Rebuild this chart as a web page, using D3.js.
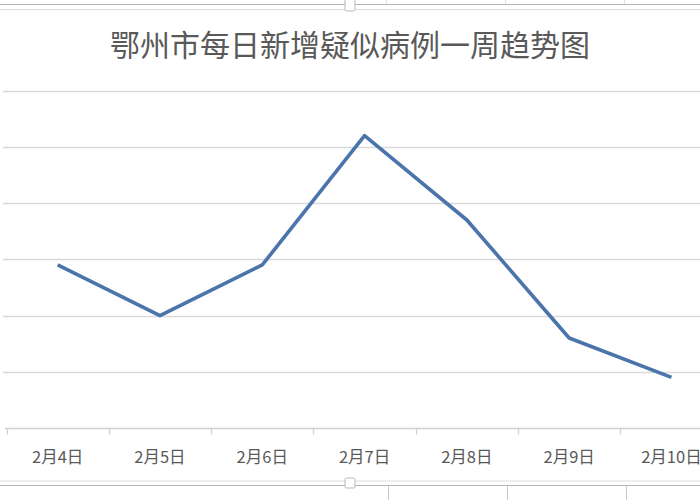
<!DOCTYPE html>
<html>
<head>
<meta charset="utf-8">
<script src="https://cdn.jsdelivr.net/npm/d3@7"></script>
<style>
  body { margin: 0; background: #fff; }
  svg { display: block; font-family: "Noto Sans CJK SC", "Noto Sans", sans-serif; }
</style>
</head>
<body>
<div id="chart"></div>
<script>
var title = "鄂州市每日新增疑似病例一周趋势图";
var days = ["2月4日", "2月5日", "2月6日", "2月7日", "2月8日", "2月9日", "2月10日"];
var cases = [29, 20, 29, 52, 37, 16, 9];
var y_ticks = [0, 10, 20, 30, 40, 50, 60];

var w = 700, h = 500;

var x_ax = d3.scaleBand()
  .domain(days)
  .range([6.5, 722.6]);
var y_ax = d3.scaleLinear()
  .domain([0, 60])
  .range([428, 90.7]);

var svg_obj = d3.select("#chart").append("svg")
  .attr("width", w)
  .attr("height", h);

// screenshot frame bits (top and bottom edges of the embedded chart)
var frame = svg_obj.append("g");
frame.append("line").attr("x1", 0).attr("x2", w).attr("y1", 4.5).attr("y2", 4.5)
  .attr("stroke", "#b4b4b4").attr("stroke-width", 1.2);
frame.append("line").attr("x1", 0).attr("x2", w).attr("y1", 9.5).attr("y2", 9.5)
  .attr("stroke", "#dcdcdc").attr("stroke-width", 1);
frame.append("line").attr("x1", 0).attr("x2", w).attr("y1", 481).attr("y2", 481)
  .attr("stroke", "#dcdcdc").attr("stroke-width", 1);
frame.append("line").attr("x1", 0).attr("x2", w).attr("y1", 485.5).attr("y2", 485.5)
  .attr("stroke", "#b4b4b4").attr("stroke-width", 1.2);
[388.5, 507.5, 626.5].forEach(function(xx) {
  frame.append("line").attr("x1", xx).attr("x2", xx).attr("y1", 486).attr("y2", h)
    .attr("stroke", "#c8c8c8").attr("stroke-width", 1);
  frame.append("line").attr("x1", xx - 2).attr("x2", xx - 2).attr("y1", 0).attr("y2", 4)
    .attr("stroke", "#e0e0e0").attr("stroke-width", 1);
});
frame.append("rect").attr("x", 345).attr("y", -1).attr("width", 10).attr("height", 12)
  .attr("fill", "#fff").attr("stroke", "#b8b8b8").attr("rx", 1.5);
frame.append("rect").attr("x", 345).attr("y", 478).attr("width", 10).attr("height", 10)
  .attr("fill", "#fff").attr("stroke", "#b8b8b8").attr("rx", 1.5);

// title
svg_obj.append("text")
  .attr("x", 350)
  .attr("y", 56)
  .attr("text-anchor", "middle")
  .attr("fill", "#595959")
  .attr("font-size", 30)
  .text(title);

// horizontal gridlines
svg_obj.append("g")
  .selectAll("line")
  .data(y_ticks.slice(1))
  .enter()
    .append("line")
    .attr("x1", 3)
    .attr("x2", w)
    .attr("y1", function(d) { return Math.round(y_ax(d)) + 0.5; })
    .attr("y2", function(d) { return Math.round(y_ax(d)) + 0.5; })
    .attr("stroke", "#d9d9d9")
    .attr("stroke-width", 1.3);

// category axis
var x_axis = svg_obj.append("g")
  .attr("transform", "translate(0," + (Math.round(y_ax(0)) + 0.5) + ")");
x_axis.append("line")
  .attr("x1", 5).attr("x2", w)
  .attr("stroke", "#d0d0d0").attr("stroke-width", 1.3);
x_axis.selectAll(".tick_mark")
  .data(days)
  .enter()
    .append("line")
    .attr("class", "tick_mark")
    .attr("x1", function(d) { return Math.round(x_ax(d)) + 0.5; })
    .attr("x2", function(d) { return Math.round(x_ax(d)) + 0.5; })
    .attr("y1", 0).attr("y2", 6)
    .attr("stroke", "#d0d0d0").attr("stroke-width", 1.3);
x_axis.selectAll(".tick_label")
  .data(days)
  .enter()
    .append("text")
    .attr("class", "tick_label")
    .attr("x", function(d) { return x_ax(d) + x_ax.bandwidth() / 2; })
    .attr("y", 34)
    .attr("text-anchor", "middle")
    .attr("fill", "#595959")
    .attr("font-size", 16.5)
    .text(function(d) { return d; });

// series line
var line_gen = d3.line()
  .x(function(d, i) { return x_ax(days[i]) + x_ax.bandwidth() / 2; })
  .y(function(d) { return y_ax(d); });

svg_obj.append("path")
  .datum(cases)
  .attr("fill", "none")
  .attr("stroke", "#4a74aa")
  .attr("stroke-width", 3.6)
  .attr("stroke-linejoin", "round")
  .attr("d", line_gen);
</script>
</body>
</html>
